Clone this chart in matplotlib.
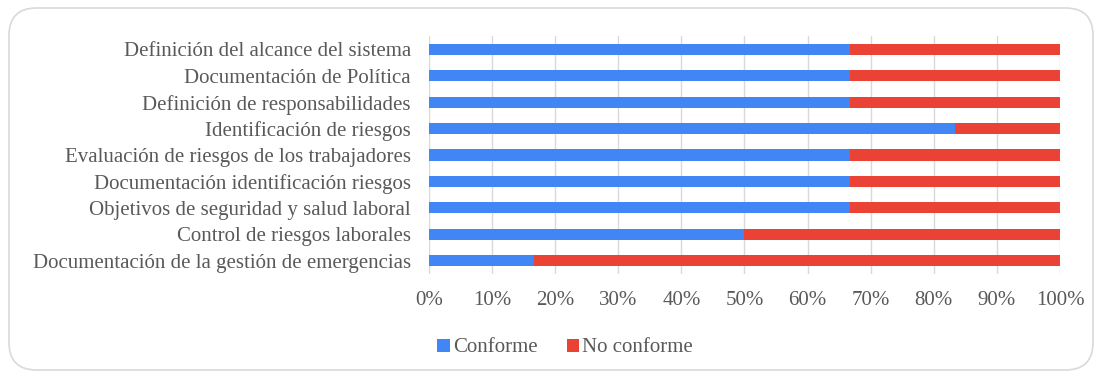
import matplotlib.pyplot as plt
from matplotlib.patches import FancyBboxPatch
from matplotlib.ticker import PercentFormatter

categories = [
    "Definición del alcance del sistema",
    "Documentación de Política",
    "Definición de responsabilidades",
    "Identificación de riesgos",
    "Evaluación de riesgos de los trabajadores",
    "Documentación identificación riesgos",
    "Objetivos de seguridad y salud laboral",
    "Control de riesgos laborales",
    "Documentación de la gestión de emergencias",
]
conforme = [66.7, 66.7, 66.7, 83.3, 66.7, 66.7, 66.7, 50.0, 16.7]
no_conforme = [33.3, 33.3, 33.3, 16.7, 33.3, 33.3, 33.3, 50.0, 83.3]

blue = "#4285F4"
red = "#EA4335"
text_color = "#595959"
fs = 15

plt.rcParams['font.family'] = ['Liberation Serif', 'DejaVu Serif']

fig = plt.figure(figsize=(11.01, 3.78), dpi=100)
ax = fig.add_axes([0.3896, 0.275, 0.5732, 0.630])

y = list(range(len(categories)))
ax.barh(y, conforme, height=0.42, color=blue, label="Conforme", zorder=3)
ax.barh(y, no_conforme, left=conforme, height=0.42, color=red, label="No conforme", zorder=3)

ax.set_ylim(len(categories) - 0.5, -0.5)
ax.set_xlim(0, 100)
ax.set_yticks(y)
ax.set_yticklabels(categories, fontsize=fs, color=text_color)
ax.set_xticks(range(0, 101, 10))
ax.xaxis.set_major_formatter(PercentFormatter(decimals=0))
ax.tick_params(axis='x', labelsize=fs, labelcolor=text_color, length=0, pad=12)
ax.tick_params(axis='y', length=0, pad=13)
ax.grid(axis='x', color="#d9d9d9", linewidth=1, zorder=0)
for s in ax.spines.values():
    s.set_visible(False)

ax.legend(loc='center', bbox_to_anchor=(565 / 1101, 1 - 348 / 378), bbox_transform=fig.transFigure,
          ncol=2, frameon=False, fontsize=fs, labelcolor=text_color,
          handlelength=0.6, handleheight=0.6, handletextpad=0.15, columnspacing=1.4)

border = FancyBboxPatch((9 / 1101, 8 / 378), 1084 / 1101, 362 / 378,
                        boxstyle="round,pad=0,rounding_size=0.025", transform=fig.transFigure,
                        facecolor='none', edgecolor="#d9d9d9", linewidth=1.2, mutation_aspect=1101 / 378)
fig.patches.append(border)

fig.savefig("out.png", dpi=100)
